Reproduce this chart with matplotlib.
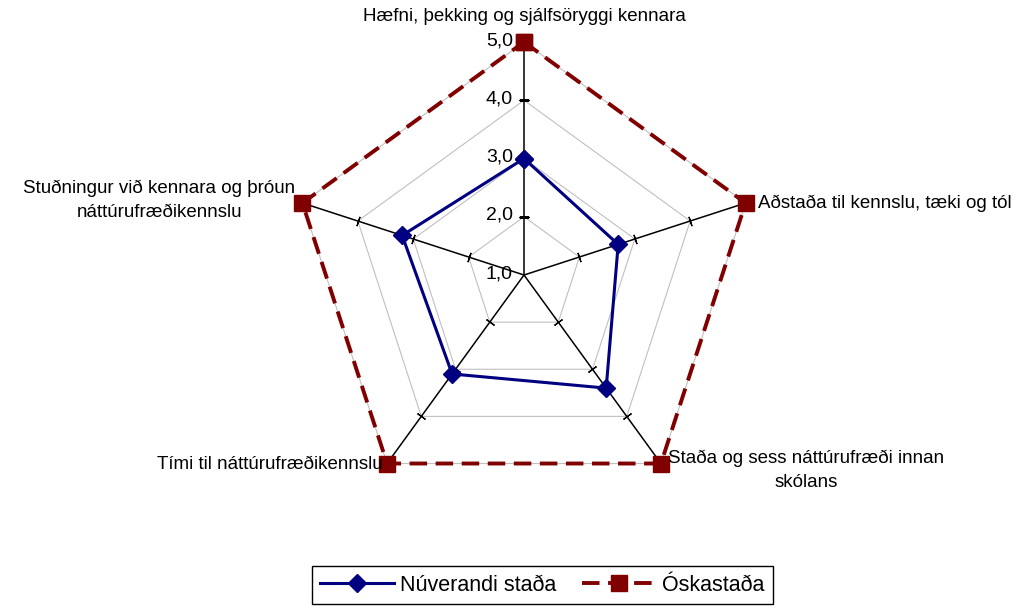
"""
Radar chart: núverandi staða vs óskastaða
"""
import numpy as np
import matplotlib.pyplot as plt
import matplotlib as mpl

mpl.rcParams['font.family'] = ['Liberation Sans', 'DejaVu Sans']

# gögn
categories = ['Hæfni, þekking og sjálfsöryggi kennara',
              'Aðstaða til kennslu, tæki og tól',
              'Staða og sess náttúrufræði innan\nskólans',
              'Tími til náttúrufræðikennslu',
              'Stuðningur við kennara og þróun\nnáttúrufræðikennslu']
nuverandi = [3.0, 2.7, 3.4, 3.1, 3.2]
oskastada = [5.0, 5.0, 5.0, 5.0, 5.0]
r_ticks = [1.0, 2.0, 3.0, 4.0, 5.0]
r_labels = ['1,0', '2,0', '3,0', '4,0', '5,0']

n = len(categories)
theta = np.arange(n) * 2 * np.pi / n
theta_c = np.append(theta, theta[0])

fig = plt.figure(figsize=(10.29, 6.10), dpi=100)
ax = fig.add_axes([0.2828, 0.1672, 0.4529, 0.7639], projection='polar')
ax.set_theta_offset(np.pi / 2)
ax.set_theta_direction(-1)
ax.set_ylim(1, 5)
ax.grid(False)
ax.spines['polar'].set_visible(False)
ax.set_xticks([])
ax.set_yticks([])
ax.patch.set_visible(False)

# gráar grindarlínur
for r in r_ticks[1:]:
    ax.plot(theta_c, [r] * (n + 1), color='#c0c0c0', lw=0.8, zorder=1)

# ásar með merkjum
for i in range(n):
    phi = np.degrees(theta[i])
    ax.plot([theta[i], theta[i]], [r_ticks[0], r_ticks[-1]], color='black', lw=1.1, zorder=2)
    ax.plot([theta[i]] * (len(r_ticks) - 1), r_ticks[1:], ls='none', color='black',
            marker=(2, 2, 90 - phi), ms=7, mew=0.9, zorder=2)

# gildi á ás
for r, lab in zip(r_ticks, r_labels):
    ax.annotate(lab, xy=(0, r), xytext=(-8, 1), textcoords='offset points',
                ha='right', va='center', fontsize=14)

ax.plot(theta_c, oskastada + oskastada[:1], color='#800000', lw=2.8, ls=(0, (4.5, 2.2)),
        marker='s', ms=12, clip_on=False, zorder=3, label='Óskastaða')
ax.plot(theta_c, nuverandi + nuverandi[:1], color='#000080', lw=2.2,
        marker='D', ms=9, clip_on=False, zorder=4, label='Núverandi staða')

# flokkaheiti: (dx, dy, ha, va)
lab_pos = [(0, 12, 'center', 'bottom'),
           (9, 0, 'left', 'center'),
           (5, -5, 'left', 'center'),
           (-3, -1, 'right', 'center'),
           (-5, 2, 'right', 'center')]
for i in range(n):
    dx, dy, ha, va = lab_pos[i]
    ax.annotate(categories[i], xy=(theta[i], 5.0), xytext=(dx, dy), textcoords='offset points',
                ha=ha, va=va, multialignment='center', fontsize=13.5, linespacing=1.5)

h, l = ax.get_legend_handles_labels()
leg = fig.legend(h[::-1], l[::-1], loc='lower center', bbox_to_anchor=(0.527, -0.008),
                 ncol=2, fontsize=15.5, frameon=True, fancybox=False, edgecolor='black',
                 framealpha=1, handlelength=3.4, columnspacing=1.2, handletextpad=0.3,
                 borderpad=0.4)
leg.get_frame().set_linewidth(1.0)

plt.savefig('out.png', dpi=100)
